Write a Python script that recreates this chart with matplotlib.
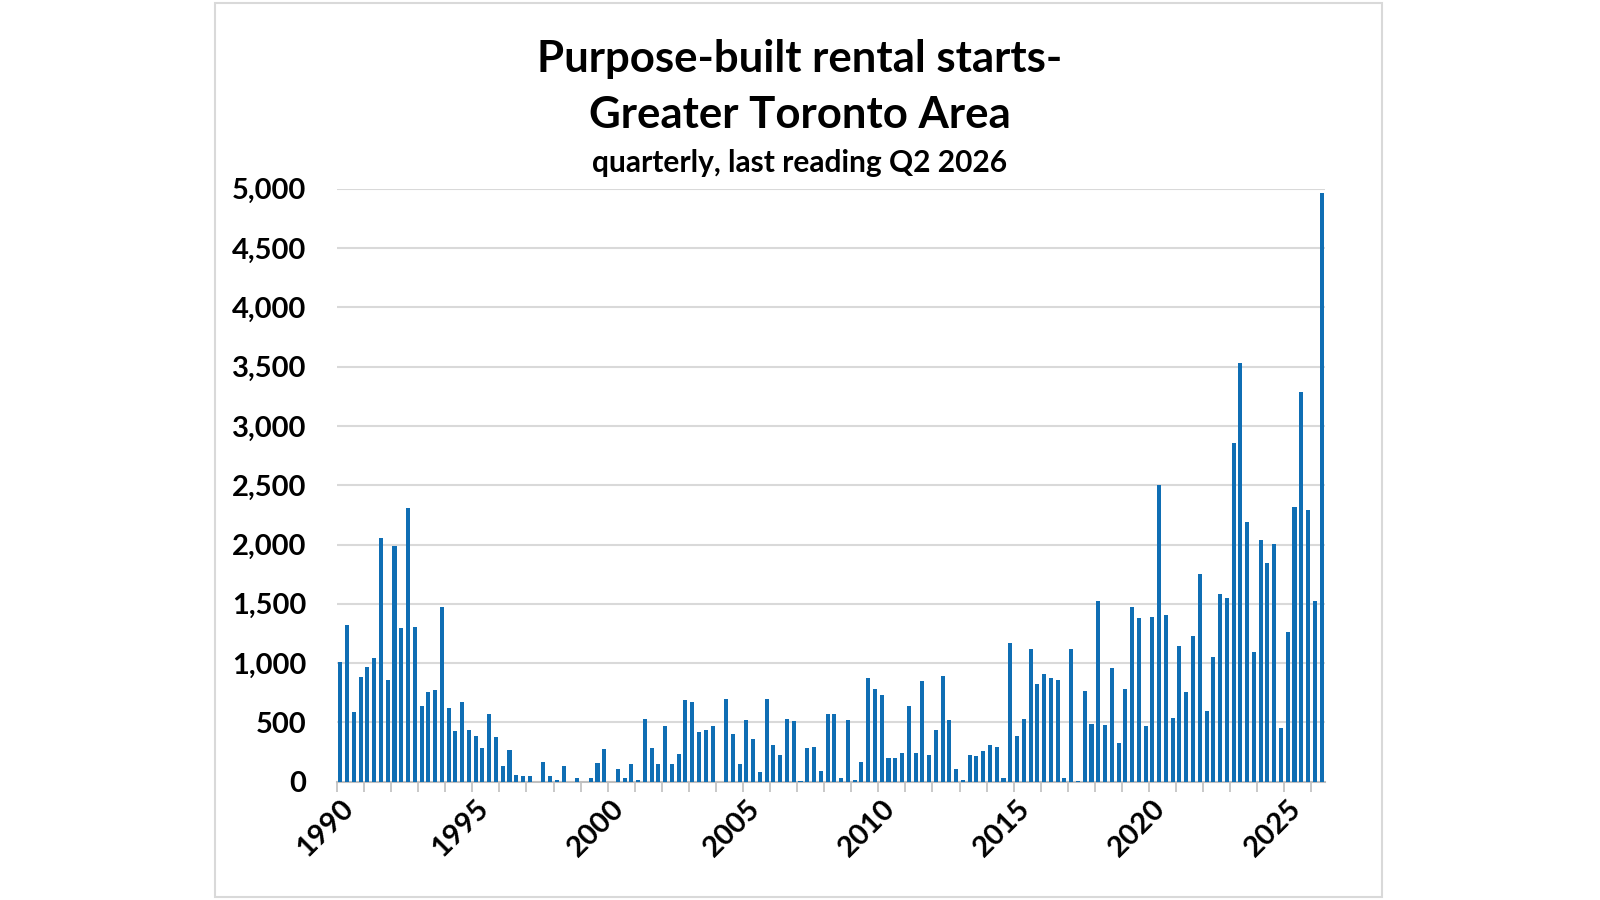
import numpy as np
import matplotlib.pyplot as plt
from matplotlib.patches import Rectangle
from matplotlib.ticker import FuncFormatter, FixedLocator

plt.rcParams['font.family'] = ['Lato', 'DejaVu Sans']

# quarterly purpose-built rental starts, GTA, Q1 1990 .. Q2 2026
starts_1990s = [1010, 1320, 590, 885, 970, 1045, 2055, 855, 1985, 1295,
                2305, 1305, 640, 760, 775, 1475, 625, 430, 670, 440,
                385, 285, 570, 375, 130, 265, 55, 48, 48, 0,
                163, 48, 14, 135, 0, 28, 0, 34, 158, 276]
starts_2000s = [0, 104, 34, 152, 17, 532, 282, 146, 468, 146,
                234, 685, 673, 423, 439, 468, 0, 701, 403, 152,
                521, 363, 79, 701, 310, 223, 532, 510, 8, 287,
                293, 90, 575, 575, 28, 521, 11, 163, 876, 783]
starts_2010s = [730, 197, 197, 239, 637, 245, 848, 222, 436, 891,
                520, 107, 14, 222, 217, 256, 309, 292, 28, 1167,
                388, 526, 1116, 821, 908, 872, 861, 28, 1116, 8,
                768, 484, 1527, 478, 963, 330, 785, 1470, 1378, 466]
starts_2020s = [1388, 2503, 1404, 535, 1142, 755, 1227, 1749, 600, 1053,
                1585, 1549, 2854, 3533, 2192, 1096, 2034, 1847, 2001, 456,
                1266, 2316, 3287, 2287, 1522, 4967]

label_years = ['1990', '1995', '2000', '2005', '2010', '2015', '2020', '2025']

starts = starts_1990s + starts_2000s + starts_2010s + starts_2020s
x = np.arange(len(starts))

fig = plt.figure(figsize=(16, 9), dpi=100)
fig.add_artist(Rectangle((215, 3), 1167, 894, transform=None, fill=False,
                         edgecolor='#d9d9d9', linewidth=1.5))

ax = fig.add_axes([0.2106, 0.1314, 0.6175, 0.659])
ax.bar(x, starts, width=0.6, color='#0f6eb4', zorder=3)

ax.set_xlim(-0.5, len(starts) - 0.5)
ax.set_ylim(0, 5000)
ax.set_yticks(np.arange(0, 5001, 500))
ax.yaxis.set_major_formatter(FuncFormatter(lambda v, p: f'{int(v):,}'))
ax.grid(axis='y', color='#d9d9d9', linewidth=1.5, zorder=0)

ax.set_xticks(np.arange(0, len(starts), 20))
ax.set_xticklabels(label_years, rotation=45, ha='right', va='top',
                   rotation_mode='anchor')
ax.xaxis.set_minor_locator(FixedLocator(np.arange(-0.5, len(starts), 4)))
ax.tick_params(axis='x', which='major', length=0, pad=10)
ax.tick_params(axis='x', which='minor', length=7, color='#bfbfbf', width=1.2)
ax.tick_params(axis='y', length=0, pad=22)
for lab in ax.get_xticklabels() + ax.get_yticklabels():
    lab.set_fontsize(21)
    lab.set_fontweight('bold')

for s in ['top', 'right', 'left']:
    ax.spines[s].set_visible(False)
ax.spines['bottom'].set_color('#bfbfbf')
ax.spines['bottom'].set_linewidth(1.5)

fig.text(0.5, 1 - 59 / 900, 'Purpose-built rental starts-', ha='center',
         va='center', fontsize=31.5, fontweight='bold')
fig.text(0.5, 1 - 115 / 900, 'Greater Toronto Area', ha='center',
         va='center', fontsize=31.5, fontweight='bold')
fig.text(0.5, 1 - 163 / 900, 'quarterly, last reading Q2 2026', ha='center',
         va='center', fontsize=21.5, fontweight='bold')

fig.savefig('out.png', dpi=100, facecolor='white')
